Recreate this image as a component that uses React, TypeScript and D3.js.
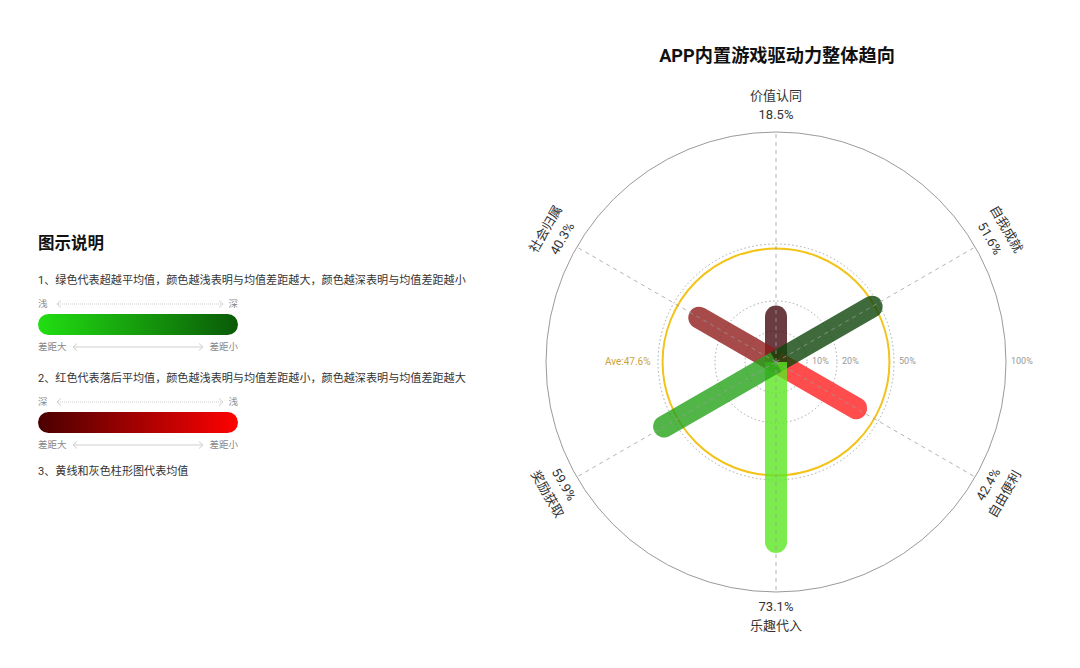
import { useMemo } from "react";
import * as d3 from "d3";

const width = 1080;
const height = 668;
const cx = 776;
const cy = 362;

// 类别（从正上方顺时针）
const categories = ["价值认同", "自我成就", "自由便利", "乐趣代入", "奖励获取", "社会归属"];
// 标签上的百分比
const values = [18.5, 51.6, 42.4, 73.1, 59.9, 40.3];
// 柱子实际长度（图上读出）
const barValues = [18.5, 51.6, 42.4, 82.6, 59.9, 40.3];
const average = 47.6;
const radialTicks = [0, 10, 20, 50, 100];
const tickRadius = [0, 31, 61, 118, 230];

const barColors = ["#450b13", "#0f460b", "#ff2020", "#5be620", "#27a31a", "#901d1d"];
const drawOrder = [0, 5, 2, 1, 3, 4];

const fontFamily = "Roboto, 'Noto Sans CJK SC', sans-serif";

const legendLines = [
  "1、绿色代表超越平均值，颜色越浅表明与均值差距越大，颜色越深表明与均值差距越小",
  "2、红色代表落后平均值，颜色越浅表明与均值差距越小，颜色越深表明与均值差距越大",
  "3、黄线和灰色柱形图代表均值",
];

function Arrow({ x1, x2, y, dotted }: { x1: number; x2: number; y: number; dotted?: boolean }) {
  return (
    <g stroke="#cfcfcf" fill="none" strokeWidth={1}>
      <line x1={x1 + 1} x2={x2 - 1} y1={y} y2={y} strokeDasharray={dotted ? "1 1" : undefined} />
      <polyline points={`${x1 + 4},${y - 3.5} ${x1},${y} ${x1 + 4},${y + 3.5}`} />
      <polyline points={`${x2 - 4},${y - 3.5} ${x2},${y} ${x2 - 4},${y + 3.5}`} />
    </g>
  );
}

function GradientBar({ y, id, label, labelLeft, labelRight }: { y: number; id: string; label: string; labelLeft: string; labelRight: string }) {
  return (
    <g>
      <text x={38} y={y} fontSize={11.1} fill="#333" dominantBaseline="middle">
        {label}
      </text>
      <text x={38} y={y + 23} fontSize={9.5} fill="#888" dominantBaseline="middle">
        {labelLeft}
      </text>
      <Arrow x1={57} x2={223} y={y + 23} dotted />
      <text x={238} y={y + 23} fontSize={9.5} fill="#888" textAnchor="end" dominantBaseline="middle">
        {labelRight}
      </text>
      <rect x={38} y={y + 33} width={200} height={21} rx={10.5} fill={`url(#${id})`} />
      <text x={38} y={y + 66} fontSize={9.5} fill="#888" dominantBaseline="middle">
        差距大
      </text>
      <Arrow x1={73} x2={203} y={y + 66} />
      <text x={238} y={y + 66} fontSize={9.5} fill="#888" textAnchor="end" dominantBaseline="middle">
        差距小
      </text>
    </g>
  );
}

export default function App() {
  const r = useMemo(() => d3.scaleLinear().domain(radialTicks).range(tickRadius), []);
  const angle = useMemo(
    () =>
      d3
        .scalePoint<string>()
        .domain(categories)
        .range([0, (Math.PI * 2 * (categories.length - 1)) / categories.length]),
    [],
  );
  const R = r(100);
  const barWidth = 22;

  const pos = (a: number, rad: number) => [cx + rad * Math.sin(a), cy - rad * Math.cos(a)];

  return (
    <div style={{ position: "absolute", left: 0, top: 0 }}>
      <svg width={width} height={height} viewBox={`0 0 ${width} ${height}`} style={{ fontFamily, display: "block" }}>
        <defs>
          <linearGradient id="g-green" x1="0" x2="1" y1="0" y2="0">
            <stop offset="0%" stopColor="#22de12" />
            <stop offset="100%" stopColor="#0a5a08" />
          </linearGradient>
          <linearGradient id="g-red" x1="0" x2="1" y1="0" y2="0">
            <stop offset="0%" stopColor="#4a0000" />
            <stop offset="100%" stopColor="#ff0202" />
          </linearGradient>
        </defs>

        {/* 图例 */}
        <text x={38} y={245} fontSize={16.5} fontWeight={700} fill="#111" dominantBaseline="middle">
          图示说明
        </text>
        <GradientBar y={281} id="g-green" label={legendLines[0]} labelLeft="浅" labelRight="深" />
        <GradientBar y={379} id="g-red" label={legendLines[1]} labelLeft="深" labelRight="浅" />
        <text x={38} y={472} fontSize={11.1} fill="#333" dominantBaseline="middle">
          {legendLines[2]}
        </text>

        {/* 标题 */}
        <text x={cx + 1} y={57} fontSize={18.2} fontWeight={700} fill="#111" textAnchor="middle" dominantBaseline="middle">
          APP内置游戏驱动力整体趋向
        </text>

        {/* 外圈 */}
        <circle cx={cx} cy={cy} r={R} fill="none" stroke="#9a9a9a" strokeWidth={1} />

        {/* 刻度圈 */}
        {radialTicks
          .filter((t) => t > 0 && t < 100)
          .map((t) => (
            <circle key={t} cx={cx} cy={cy} r={r(t)} fill="none" stroke="#a8a8a8" strokeWidth={1} strokeDasharray="1.5 2.5" />
          ))}

        {/* 均值线 */}
        <circle cx={cx} cy={cy} r={r(average)} fill="none" stroke="#f2c318" strokeWidth={2} />
        <text x={cx - r(average) - 12} y={cy} fontSize={10} fill="#c9a43a" textAnchor="end" dominantBaseline="middle">
          Ave:{average}%
        </text>

        {/* 刻度文字 */}
        {radialTicks.map((t) => (
          <text
            key={t}
            x={cx + r(t) + (t === 0 ? -4 : 5)}
            y={cy}
            fontSize={9}
            fill="#999"
            dominantBaseline="middle"
          >
            {t}%
          </text>
        ))}

        {/* 柱子 */}
        {drawOrder.map((i) => {
          const L = r(barValues[i]);
          const h = barWidth / 2;
          const deg = ((angle(categories[i]) ?? 0) * 180) / Math.PI;
          return (
            <path
              key={categories[i]}
              transform={`translate(${cx},${cy}) rotate(${deg})`}
              d={`M ${-h} 0 V ${-(L - h)} A ${h} ${h} 0 0 1 ${h} ${-(L - h)} V 0 Z`}
              fill={barColors[i]}
              opacity={0.8}
            />
          );
        })}

        {/* 径向虚线 */}
        {categories.map((c) => {
          const [x2, y2] = pos(angle(c) ?? 0, R);
          return (
            <line key={c} x1={cx} y1={cy} x2={x2} y2={y2} stroke="#9c9c9c" strokeWidth={1} strokeDasharray="4 4" opacity={0.75} />
          );
        })}

        {/* 类别标签 */}
        {categories.map((c, i) => {
          const a = angle(c) ?? 0;
          let rot = (a * 180) / Math.PI;
          if (rot > 90 && rot < 270) rot -= 180;
          if (rot >= 270) rot -= 360;
          const [px, py] = pos(a, R + 16);
          const [nx, ny] = pos(a, R + 35);
          return (
            <g key={c} fontSize={13} fill="#333" textAnchor="middle">
              <text x={px} y={py} dominantBaseline="middle" transform={`rotate(${rot},${px},${py})`}>
                {values[i]}%
              </text>
              <text x={nx} y={ny} dominantBaseline="middle" transform={`rotate(${rot},${nx},${ny})`}>
                {c}
              </text>
            </g>
          );
        })}
      </svg>
    </div>
  );
}
